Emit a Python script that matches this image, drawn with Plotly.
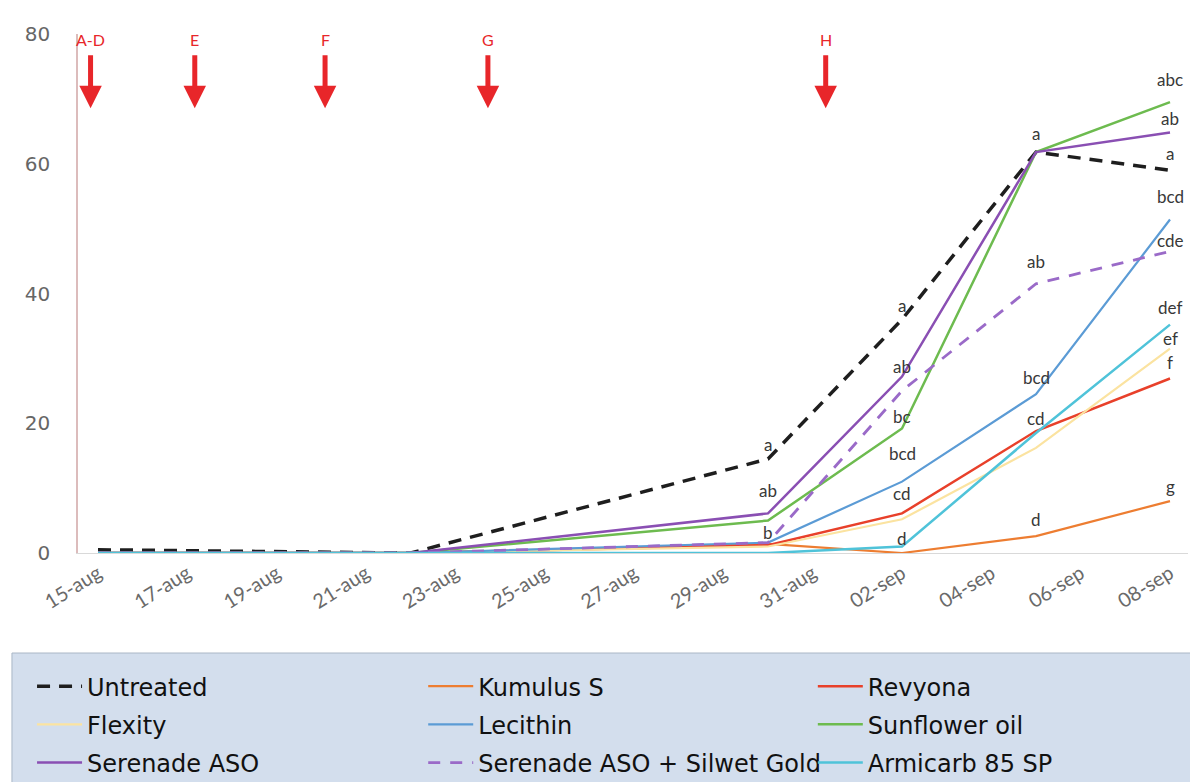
import plotly.graph_objects as go

# ---------------- data ----------------
dates = ["2023-08-15", "2023-08-22", "2023-08-30", "2023-09-02", "2023-09-05", "2023-09-08"]

untreated = [0.5, 0.0, 14.5, 36.0, 61.8, 59.0]
kumulus_s = [0.0, 0.0, 1.4, 0.0, 2.6, 8.0]
revyona = [0.0, 0.0, 1.2, 6.1, 18.8, 26.9]
flexity = [0.0, 0.0, 1.0, 5.2, 16.2, 31.5]
lecithin = [0.0, 0.0, 1.6, 11.0, 24.5, 51.4]
sunflower_oil = [0.0, 0.0, 5.0, 19.2, 61.8, 69.5]
serenade_aso = [0.0, 0.0, 6.1, 27.2, 61.8, 64.8]
serenade_silwet = [0.0, 0.0, 1.6, 25.0, 41.5, 46.5]
armicarb = [0.0, 0.0, 0.0, 1.0, 18.5, 35.2]

tick_vals = ["2023-08-15", "2023-08-17", "2023-08-19", "2023-08-21", "2023-08-23",
             "2023-08-25", "2023-08-27", "2023-08-29", "2023-08-31", "2023-09-02",
             "2023-09-04", "2023-09-06", "2023-09-08"]
tick_text = ["15-aug", "17-aug", "19-aug", "21-aug", "23-aug", "25-aug", "27-aug",
             "29-aug", "31-aug", "02-sep", "04-sep", "06-sep", "08-sep"]

# significance letters (date, letters, label heights)
letter_dates = ["2023-08-30", "2023-09-02", "2023-09-05", "2023-09-08"]
letter_texts = [
    ["a", "ab", "b"],
    ["a", "ab", "bc", "bcd", "cd", "d"],
    ["a", "ab", "bcd", "cd", "d"],
    ["abc", "ab", "a", "bcd", "cde", "def", "ef", "f", "g"],
]
letter_y = [
    [16.8, 9.6, 3.1],
    [38.2, 28.8, 21.1, 15.3, 9.1, 2.3],
    [64.7, 45.0, 27.0, 20.8, 5.2],
    [73.0, 67.0, 61.6, 55.0, 48.1, 37.8, 33.1, 29.3, 10.3],
]

# application timings
spray_labels = ["A-D", "E", "F", "G", "H"]
spray_x = ["2023-08-14 20:00", "2023-08-17 04:00", "2023-08-20 02:00",
           "2023-08-23 17:30", "2023-08-31 07:00"]

# ---------------- figure ----------------
series = [
    ("Untreated", untreated, "#1e1e1e", "13px,9px", 3.5, "legend"),
    ("Kumulus S", kumulus_s, "#ED7D31", "solid", 2.2, "legend2"),
    ("Revyona", revyona, "#E8402A", "solid", 2.5, "legend3"),
    ("Flexity", flexity, "#FBE3A0", "solid", 2.2, "legend"),
    ("Lecithin", lecithin, "#5B9BD5", "solid", 2.2, "legend2"),
    ("Sunflower oil", sunflower_oil, "#6DBB4F", "solid", 2.5, "legend3"),
    ("Serenade ASO", serenade_aso, "#8A4FB3", "solid", 2.5, "legend"),
    ("Serenade ASO + Silwet Gold", serenade_silwet, "#9A6AC8", "12px,10px", 2.8, "legend2"),
    ("Armicarb 85 SP", armicarb, "#4FC3D9", "solid", 2.5, "legend3"),
]

fig = go.Figure()
for name, vals, col, dash, w, lg in series:
    fig.add_trace(go.Scatter(
        x=dates, y=vals, name=name, mode="lines",
        line=dict(color=col, dash=dash, width=w),
        legend=lg, legendgroup=name,
    ))

annotations = []
for d, texts, ys in zip(letter_dates, letter_texts, letter_y):
    for t, yv in zip(texts, ys):
        annotations.append(dict(
            x=d, y=yv, xref="x", yref="y", text=t, showarrow=False,
            font=dict(family="Lato, sans-serif", size=17, color="#383838"),
            xanchor="center", yanchor="middle",
        ))

for lab, xv in zip(spray_labels, spray_x):
    annotations.append(dict(
        x=xv, y=0.857, xref="x", yref="paper", text=lab,
        showarrow=True, arrowhead=2, arrowsize=0.9, arrowwidth=5,
        arrowcolor="#E8262A", ax=0, ay=-69, startstandoff=5,
        font=dict(family="Lato, sans-serif", size=16, color="#E8262A"),
    ))

legend_common = dict(
    orientation="v", bgcolor="rgba(0,0,0,0)", borderwidth=0,
    font=dict(family="DejaVu Sans, sans-serif", size=24, color="#111111"),
    itemwidth=45, traceorder="grouped", tracegroupgap=4,
    xanchor="left", yanchor="top", y=-0.214,
)

# the page body adds an 8px offset, so the figure is 8px smaller than the window
fig.update_layout(
    width=1190, height=774,
    margin=dict(l=70, r=10, t=26, b=229, autoexpand=False),
    paper_bgcolor="white", plot_bgcolor="white",
    showlegend=True,
    legend=dict(legend_common, x=-0.0414),
    legend2=dict(legend_common, x=0.311),
    legend3=dict(legend_common, x=0.662),
    annotations=annotations,
    shapes=[dict(
        type="rect", xref="paper", yref="paper",
        x0=-0.0595, x1=1.02, y0=-0.45, y1=-0.1927,
        fillcolor="#D3DEED", line=dict(color="#AAB6C6", width=1), layer="below",
    )],
    xaxis=dict(
        type="date", automargin=False,
        range=["2023-08-14 13:15", "2023-09-08 09:40"],
        tickvals=tick_vals, ticktext=tick_text, tickangle=-32,
        tickfont=dict(family="Lato, sans-serif", size=20, color="#6a6a6a"),
        showgrid=False, zeroline=False, showline=True,
        linecolor="#d9d9d9", linewidth=1, ticks="",
    ),
    yaxis=dict(
        range=[0, 80], tickvals=[0, 20, 40, 60, 80], automargin=False,
        tickfont=dict(family="DejaVu Sans, sans-serif", size=20, color="#666666"),
        showgrid=False, zeroline=False, showline=True,
        linecolor="#dcbcbc", linewidth=1.5, ticks="",
        ticklabelstandoff=22,
    ),
)

fig.write_html("out.html")
